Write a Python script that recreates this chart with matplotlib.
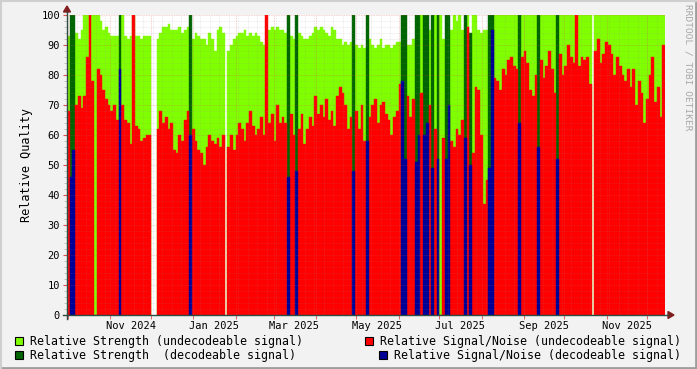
import numpy as np
import pandas as pd
import matplotlib
matplotlib.use("Agg")
import matplotlib.pyplot as plt
import matplotlib.dates as mdates
from matplotlib.lines import Line2D
from matplotlib.patches import Rectangle, Polygon

# one bar every 2 days, starting Monday 2024-09-30
start = pd.Timestamp("2024-09-30")

strength = [
    93, 100, 100, 94, 92, 95, 100, 100, 100, 100,
    100, 100, 98, 95, 96, 94, 93, 93, 93, 100,
    100, 93, 92, 93, 100, 93, 93, 92, 93, 93,
    93, np.nan, np.nan, 92, 94, 96, 96, 97, 95, 95,
    95, 96, 94, 95, 96, 100, 92, 94, 93, 92,
    92, 90, 94, 92, 88, 95, 96, 94, np.nan, 88,
    90, 92, 93, 94, 94, 95, 93, 94, 93, 94,
    93, 91, 90, 90, 95, 96, 95, 96, 95, 95,
    94, 100, 93, 92, 100, 94, 93, 92, 92, 93,
    94, 96, 95, 96, 95, 94, 93, 96, 95, 92,
    92, 90, 91, 90, 91, 100, 90, 89, 90, 89,
    100, 92, 90, 89, 90, 92, 89, 90, 90, 89,
    90, 91, 91, 100, 100, 90, 90, 92, 100, 100,
    100, 100, 100, 95, 100, 100, 100, 100, 92, 100,
    100, 95, 100, 98, 100, 95, 100, 100, 94, 100,
    100, 95, 94, 95, 95, 100, 100, 100, 100, 100,
    100, 100, 100, 100, 100, 100, 100, 100, 100, 100,
    100, 100, 100, 100, 100, 100, 100, 100, 100, 100,
    100, 100, 100, 100, 100, 100, 100, 100, 100, 100,
    100, 100, 100, np.nan, 100, 100, 100, 100, 100, 100,
    100, 100, 100, 100, 100, 100, 100, 100, 100, 100,
    100, 100, 100, 100, 100, 100, 100, 100, 100, 100,
]

signal_noise = [
    68, 46, 55, 70, 73, 69, 73, 86, 100, 78,
    0, 82, 80, 75, 72, 70, 68, 70, 65, 82,
    70, 65, 64, 57, 100, 63, 62, 58, 59, 60,
    60, np.nan, np.nan, 62, 68, 64, 66, 62, 64, 55,
    54, 60, 58, 65, 68, 60, 62, 58, 55, 54,
    50, 56, 60, 58, 57, 59, 56, 60, np.nan, 56,
    60, 55, 60, 64, 62, 58, 64, 68, 63, 60,
    62, 66, 60, 100, 64, 67, 58, 70, 64, 66,
    64, 46, 67, 60, 48, 62, 67, 57, 62, 66,
    63, 73, 67, 70, 66, 72, 65, 68, 63, 73,
    76, 74, 70, 62, 66, 48, 68, 62, 70, 58,
    58, 66, 70, 72, 64, 70, 71, 67, 65, 60,
    66, 68, 77, 78, 52, 73, 66, 72, 51, 60,
    74, 60, 64, 70, 49, 62, 52, 0, 59, 52,
    70, 58, 56, 62, 60, 65, 59, 96, 50, 54,
    76, 75, 60, 37, 45, 49, 95, 79, 78, 75,
    82, 80, 85, 86, 83, 82, 64, 86, 88, 84,
    75, 73, 80, 56, 85, 79, 83, 88, 82, 74,
    52, 87, 80, 83, 90, 86, 84, 100, 83, 86,
    85, 86, 77, np.nan, 88, 92, 84, 87, 91, 90,
    87, 80, 86, 83, 80, 78, 82, 76, 82, 70,
    78, 74, 64, 72, 80, 86, 71, 76, 66, 90,
]

# bins where the signal could be decoded
decoded_bins = [1, 2, 19, 45, 81, 84, 105, 110, 123, 124, 128, 129, 131, 132,
                134, 136, 139, 140, 146, 148, 155, 156, 166, 173, 180]

month_labels = ["Nov 2024", "Jan 2025", "Mar 2025", "May 2025",
                "Jul 2025", "Sep 2025", "Nov 2025"]

W, H = 697, 369
mono = "DejaVu Sans Mono"

strength = np.array(strength, dtype=float)
signal_noise = np.array(signal_noise, dtype=float)
dates = pd.date_range(start, periods=len(strength), freq="2D")
x = mdates.date2num(dates)
dec = np.zeros(len(x), dtype=bool)
dec[decoded_bins] = True
ok = ~np.isnan(strength)
und = ok & ~dec
dcd = ok & dec


def fx(px):
    return px / W


def fy(py):
    return 1 - py / H


fig = plt.figure(figsize=(W / 100, H / 100), dpi=100, facecolor="#F2F2F2")
ax = fig.add_axes([fx(67), fy(315), fx(598), 300 / H])
ax.set_facecolor("white")

c_str_u, c_str_d = "#80FF00", "#006400"
c_sn_u, c_sn_d = "#FF0000", "#000096"

bar_kw = dict(width=2, align="edge", linewidth=0.3)
ax.bar(x[und], strength[und], color=c_str_u, edgecolor=c_str_u, zorder=1, **bar_kw)
ax.bar(x[dcd], strength[dcd], color=c_str_d, edgecolor=c_str_d, zorder=1, **bar_kw)
ax.bar(x[und], signal_noise[und], color=c_sn_u, edgecolor=c_sn_u, zorder=2, **bar_kw)
ax.bar(x[dcd], signal_noise[dcd], color=c_sn_d, edgecolor=c_sn_d, zorder=2, **bar_kw)

x0 = x[0]
x1 = x0 + 440
ax.set_xlim(x0, x1)
ax.set_ylim(0, 100)

# grid (rrdtool style dotted lines, drawn over the data)
dots = (0, (1, 1))
for v in range(2, 100, 2):
    if v % 10:
        ax.axhline(v, color="#8F8F8F", alpha=0.22, lw=0.6, ls=dots, zorder=3)
for v in range(10, 101, 10):
    ax.axhline(v, color="#DE5050", alpha=0.35, lw=0.6, ls=dots, zorder=3)
weeks = pd.date_range(start, start + pd.Timedelta(days=440), freq="7D")
for d in weeks[1:]:
    ax.axvline(mdates.date2num(d), color="#8F8F8F", alpha=0.22, lw=0.6, ls=dots, zorder=3)
months = pd.date_range("2024-10-01", start + pd.Timedelta(days=440), freq="MS")
for d in months:
    ax.axvline(mdates.date2num(d), color="#DE5050", alpha=0.35, lw=0.6, ls=dots, zorder=3)

for s in ax.spines.values():
    s.set_visible(False)

# labels sit in the middle of the month, rrdtool style
label_pos = [mdates.date2num(pd.to_datetime(m, format="%b %Y") + pd.Timedelta(days=15))
             for m in month_labels]
ax.set_xticks(label_pos)
ax.set_xticklabels(month_labels, fontfamily=mono, fontsize=7.5)
ax.tick_params(axis="x", length=0, pad=4)
ax.set_xticks([mdates.date2num(d) for d in months], minor=True)
ax.tick_params(axis="x", which="minor", length=3, color="#DE5050", direction="out")

ax.set_yticks(range(0, 101, 10))
ax.set_yticklabels([str(v) for v in range(0, 101, 10)], fontfamily=mono, fontsize=7.5)
ax.set_yticks(range(0, 101, 2), minor=True)
ax.tick_params(axis="y", length=3, color="#DE5050", pad=2)
ax.tick_params(axis="y", which="minor", length=2, color="#BBBBBB")
ax.set_ylabel("Relative Quality", fontfamily=mono, fontsize=8.5, labelpad=6)

# axis lines and arrows
axis_c, arrow_c = "#2C4D43", "#7F1F1F"
fig.add_artist(Line2D([fx(63), fx(668)], [fy(315), fy(315)], color=axis_c, lw=1))
fig.add_artist(Line2D([fx(67), fx(67)], [fy(319), fy(12)], color=axis_c, lw=1))
fig.add_artist(Polygon([[fx(668), fy(311.5)], [fx(674), fy(315)], [fx(668), fy(318.5)]],
                       closed=True, color=arrow_c))
fig.add_artist(Polygon([[fx(63.5), fy(12)], [fx(67), fy(6)], [fx(70.5), fy(12)]],
                       closed=True, color=arrow_c))

fig.text(fx(688), fy(4), "RRDTOOL / TOBI OETIKER", rotation=270, ha="center", va="top",
         fontfamily=mono, fontsize=6.8, color="#A8A8A8")

# legend
legend_items = [
    (15, 341, c_str_u, "Relative Strength (undecodeable signal)"),
    (365, 341, c_sn_u, "Relative Signal/Noise (undecodeable signal)"),
    (15, 355, c_str_d, "Relative Strength  (decodeable signal)"),
    (379, 355, c_sn_d, "Relative Signal/Noise (decodeable signal)"),
]
for px, py, col, txt in legend_items:
    fig.add_artist(Rectangle((fx(px), fy(py + 4)), 8 / W, 8 / H, facecolor=col,
                             edgecolor="black", lw=0.8))
    fig.text(fx(px + 15), fy(py), txt, ha="left", va="center",
             fontfamily=mono, fontsize=8.4)

# frame shading
fig.add_artist(Line2D([0, 1], [fy(368), fy(368)], color="#9E9E9E", lw=2))
fig.add_artist(Line2D([fx(696), fx(696)], [0, 1], color="#9E9E9E", lw=2))
fig.add_artist(Line2D([0, 1], [fy(0.5), fy(0.5)], color="#CFCFCF", lw=1.5))
fig.add_artist(Line2D([fx(0.5), fx(0.5)], [0, 1], color="#CFCFCF", lw=1.5))

fig.savefig("out.png", dpi=100, facecolor=fig.get_facecolor())
